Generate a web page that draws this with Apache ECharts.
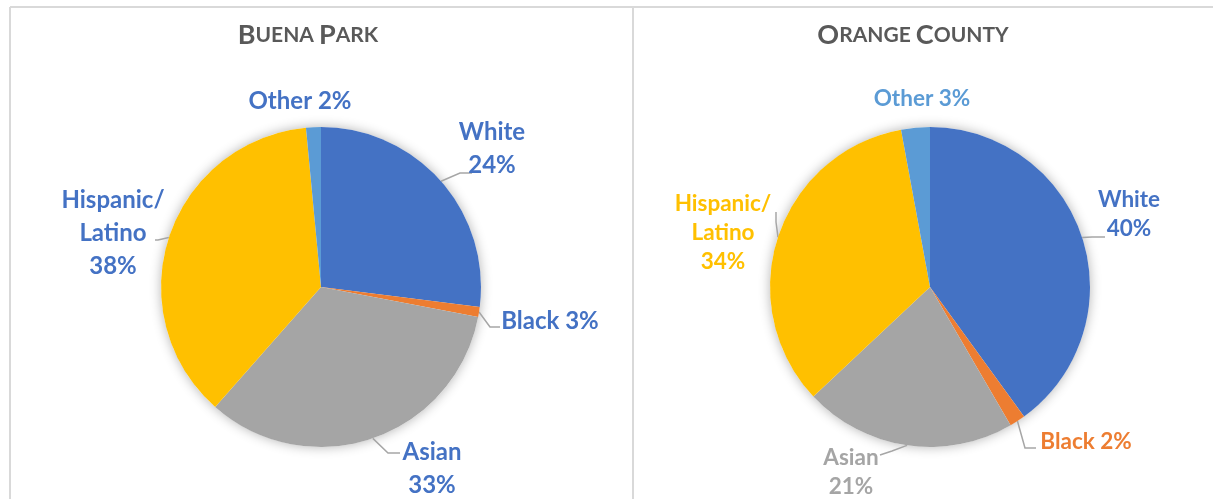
<!DOCTYPE html>
<html>

<head>
    <meta charset="UTF-8">
    <title>Buena Park vs Orange County</title>
    <script src="https://cdn.jsdelivr.net/npm/echarts@6/dist/echarts.min.js"></script>
    <style>
        html,
        body {
            margin: 0;
            padding: 0;
            background: #ffffff;
        }

        #chart {
            width: 1213px;
            height: 499px;
        }
    </style>
</head>

<body>
    <div id="chart"></div>
</body>
<script>
    // data
    var categories = ['White', 'Black', 'Asian', 'Hispanic/Latino', 'Other'];
    // slice sizes as they are drawn
    var buenaParkShare = [27, 1, 33.5, 37, 1.5];
    var orangeCountyShare = [40, 1.6, 21.4, 34.1, 2.9];
    // percentages printed in the labels
    var buenaParkLabels = ['24%', '3%', '33%', '38%', '2%'];
    var orangeCountyLabels = ['40%', '2%', '21%', '34%', '3%'];

    var sliceColors = ['#4472C4', '#ED7D31', '#A5A5A5', '#FFC000', '#5B9BD5'];
    var lineGray = '#A6A6A6';
    var font = 'Lato, "Open Sans", sans-serif';

    // where the data labels sit (box centre) and how the leader bends
    var labelSpots = [
        [
            { x: 492, y: 149, line: [[460, 173], [472, 173]] },
            { x: 550, y: 321, line: [[490, 327], [500, 327]] },
            { x: 432, y: 469, line: [[388, 453], [400, 453]] },
            { x: 113, y: 233, line: [[158, 240], [155, 240]] },
            { x: 300, y: 101 }
        ],
        [
            { x: 1129, y: 214, line: [[1092, 237], [1105, 237]] },
            { x: 1086, y: 442, line: [[1025, 448], [1036, 448]] },
            { x: 851, y: 472, line: [[892, 451], [880, 455]] },
            { x: 723, y: 233, line: [[776, 222], [776, 212]] },
            { x: 922, y: 99 }
        ]
    ];

    function labelText(name, pct) {
        if (name === 'Black' || name === 'Other') return name + ' ' + pct;
        return name.replace('/', '/\n') + '\n' + pct;
    }

    function buildItems(shares, pcts, colorByItem) {
        return categories.map(function (name, i) {
            var item = {
                name: name,
                value: shares[i],
                itemStyle: { color: sliceColors[i] },
                label: {
                    formatter: labelText(name, pcts[i]),
                    color: colorByItem ? sliceColors[i] : '#4472C4'
                }
            };
            if (name === 'Other') item.labelLine = { show: false };
            return item;
        });
    }

    function sum(arr) {
        return arr.reduce(function (a, b) { return a + b; }, 0);
    }

    function backdrop(center, total) {
        return {
            type: 'pie',
            center: center,
            radius: 160,
            silent: true,
            z: 1,
            label: { show: false },
            labelLine: { show: false },
            itemStyle: {
                color: '#ffffff',
                shadowBlur: 12,
                shadowColor: 'rgba(0,0,0,0.3)'
            },
            data: [{ value: total }]
        };
    }

    function mainPie(center, items, fontSize, lineHeight, spots) {
        return {
            type: 'pie',
            center: center,
            radius: 160,
            startAngle: 90,
            clockwise: true,
            z: 2,
            avoidLabelOverlap: false,
            itemStyle: { borderWidth: 0 },
            emphasis: { disabled: true },
            label: {
                show: true,
                position: 'outside',
                fontFamily: font,
                fontWeight: 'bold',
                fontSize: fontSize,
                lineHeight: lineHeight,
                align: 'center'
            },
            labelLine: {
                show: true,
                length: 10,
                length2: 10,
                lineStyle: { color: lineGray, width: 1.5 }
            },
            labelLayout: function (params) {
                var spot = spots[params.dataIndex];
                var out = { x: spot.x, y: spot.y, align: 'center', verticalAlign: 'middle' };
                if (spot.line && params.labelLinePoints) {
                    out.labelLinePoints = [params.labelLinePoints[0], spot.line[0], spot.line[1]];
                }
                return out;
            },
            data: items
        };
    }

    function smallCapsTitle(words) {
        // small caps: first letter big, the rest small
        return words.map(function (w) {
            return '{big|' + w.charAt(0) + '}{small|' + w.slice(1) + '}';
        }).join('{small| }');
    }

    var titleRich = {
        big: { fontFamily: font, fontWeight: 'bold', fontSize: 27, color: '#595959' },
        small: { fontFamily: font, fontWeight: 'bold', fontSize: 21, color: '#595959' }
    };

    var chart = echarts.init(document.getElementById('chart'));
    var option = {
        backgroundColor: '#ffffff',
        animation: false,
        title: [{
            text: smallCapsTitle(['BUENA', 'PARK']),
            left: 303,
            top: 17,
            textAlign: 'center',
            textStyle: { rich: titleRich }
        }, {
            text: smallCapsTitle(['ORANGE', 'COUNTY']),
            left: 908,
            top: 17,
            textAlign: 'center',
            textStyle: { rich: titleRich }
        }],
        graphic: [
            { type: 'line', shape: { x1: 10, y1: 7, x2: 1213, y2: 7 }, style: { stroke: '#D9D9D9', lineWidth: 2 } },
            { type: 'line', shape: { x1: 10, y1: 7, x2: 10, y2: 499 }, style: { stroke: '#D9D9D9', lineWidth: 2 } },
            { type: 'line', shape: { x1: 633, y1: 7, x2: 633, y2: 499 }, style: { stroke: '#D9D9D9', lineWidth: 2 } }
        ],
        series: [
            backdrop([321, 287], sum(buenaParkShare)),
            mainPie([321, 287], buildItems(buenaParkShare, buenaParkLabels, false), 24, 33, labelSpots[0]),
            backdrop([930, 287], sum(orangeCountyShare)),
            mainPie([930, 287], buildItems(orangeCountyShare, orangeCountyLabels, true), 22.5, 29, labelSpots[1])
        ]
    };
    chart.setOption(option);
</script>

</html>
